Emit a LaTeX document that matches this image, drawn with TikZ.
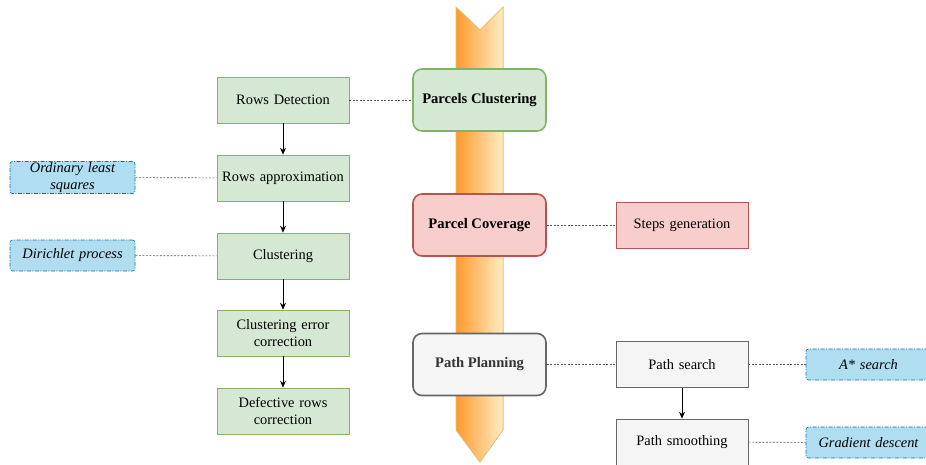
\documentclass[tikz,border=0pt]{standalone}
\usepackage{fontspec}
\setmainfont{Liberation Serif}
\usetikzlibrary{arrows.meta}
\definecolor{gfill}{HTML}{D5E8D4}
\definecolor{gline}{HTML}{82B366}
\definecolor{rfill}{HTML}{F8CECC}
\definecolor{rline}{HTML}{B85450}
\definecolor{wfill}{HTML}{F5F5F5}
\definecolor{wline}{HTML}{666666}
\definecolor{bfill}{HTML}{B1DDF0}
\definecolor{bline}{HTML}{10739E}
\definecolor{aline}{HTML}{E6C36E}
\definecolor{aleft}{HTML}{FF9A2E}
\definecolor{aright}{HTML}{FFEDC4}
\definecolor{dotc}{HTML}{555555}
\tikzset{
  stage/.style={draw, line width=1.6pt, rounded corners=9pt, minimum width=133pt, minimum height=62pt, font=\fontsize{14.6}{17}\selectfont\bfseries, align=center},
  stepbox/.style={draw, line width=0.6pt, minimum width=132pt, minimum height=46pt, font=\fontsize{14.4}{17.5}\selectfont, align=center, text width=128pt, inner sep=2pt},
  methbox/.style={draw=bline, fill=bfill, line width=0.6pt, dash pattern=on 4pt off 1.5pt on 1pt off 1.5pt, rounded corners=2.5pt, minimum width=125pt, minimum height=31pt, font=\fontsize{14.4}{17}\selectfont\itshape, align=center, text width=121pt, inner sep=1pt},
  dotline/.style={dotc, line width=0.6pt, dash pattern=on 2pt off 1.5pt},
  flow/.style={-{Stealth[length=7pt,width=6pt]}, line width=0.8pt, black}
}
\begin{document}
\begin{tikzpicture}[x=1pt,y=-1pt]
\useasboundingbox (0,0) rectangle (926,464);
% big arrow
\fill[left color=aleft, right color=aright] (456,7) -- (480,30) -- (503,7) -- (503,430) -- (480,462) -- (456,430) -- cycle;
\draw[aline, line width=0.8pt] (456,7) -- (480,30) -- (503,7) -- (503,430) -- (480,462) -- (456,430) -- cycle;
% stages
\node[stage, draw=gline, fill=gfill] (pc) at (479.5,100) {Parcels Clustering};
\node[stage, draw=rline, fill=rfill] (pcov) at (479.5,225) {Parcel Coverage};
\node[stage, draw=wline, fill=wfill, text=black!80] (pp) at (479.5,364.5) {Path Planning};
% left column
\node[stepbox, draw=gline, fill=gfill] (rd) at (283,100) {Rows Detection};
\node[stepbox, draw=gline, fill=gfill] (ra) at (283,178) {Rows approximation};
\node[stepbox, draw=gline, fill=gfill] (cl) at (283,256) {Clustering};
\node[stepbox, draw=gline, fill=gfill] (ce) at (283,333) {Clustering error\\correction};
\node[stepbox, draw=gline, fill=gfill] (dr) at (283,411) {Defective rows\\correction};
\node[methbox] (ols) at (72.5,177.5) {Ordinary least\\squares};
\node[methbox] (dp) at (72.5,255.5) {Dirichlet process};
% right
\node[stepbox, draw=rline, fill=rfill] (sg) at (682,225) {Steps generation};
\node[stepbox, draw=wline, fill=wfill] (ps) at (682,364.5) {Path search};
\node[stepbox, draw=wline, fill=wfill] (psm) at (682,442) {Path smoothing};
\node[methbox] (as) at (868.5,364.5) {A* search};
\node[methbox] (gd) at (868.5,442.5) {Gradient descent};
% dotted links
\draw[dotline] (rd) -- (pc);
\draw[dotline] (ols) -- (ra);
\draw[dotline] (dp) -- (cl);
\draw[dotline] (pcov) -- (sg);
\draw[dotline] (pp) -- (ps);
\draw[dotline] (ps) -- (as);
\draw[dotline] (psm) -- (gd);
% flow arrows
\draw[flow] (rd) -- (ra);
\draw[flow] (ra) -- (cl);
\draw[flow] (cl) -- (ce);
\draw[flow] (ce) -- (dr);
\draw[flow] (ps) -- (psm);
\end{tikzpicture}
\end{document}
